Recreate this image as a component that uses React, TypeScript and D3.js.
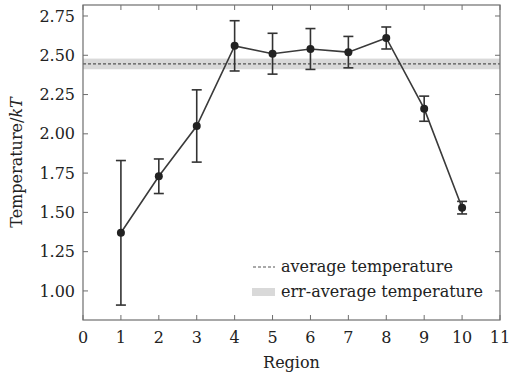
import React from "react";
import * as d3 from "d3";

// Per-region temperature with lower/upper error bounds
const regions = [1, 2, 3, 4, 5, 6, 7, 8, 9, 10];
const temps = [1.37, 1.73, 2.05, 2.56, 2.51, 2.54, 2.52, 2.61, 2.16, 1.53];
const lowers = [0.91, 1.62, 1.82, 2.40, 2.38, 2.41, 2.42, 2.54, 2.08, 1.49];
const uppers = [1.83, 1.84, 2.28, 2.72, 2.64, 2.67, 2.62, 2.68, 2.24, 1.57];

const avgTemp = 2.445;
const avgErr = 0.034;

const xTicks = [0, 1, 2, 3, 4, 5, 6, 7, 8, 9, 10, 11];
const yTicks = [1.0, 1.25, 1.5, 1.75, 2.0, 2.25, 2.5, 2.75];

const W = 509;
const H = 378;
const m = { left: 83, top: 5, right: 9, bottom: 58 };
const FONT = "DejaVu Serif";

export default function App() {
  const x = d3.scaleLinear().domain([0, 11]).range([m.left, W - m.right]);
  const y = d3.scaleLinear().domain([0.815, 2.82]).range([H - m.bottom, m.top]);
  const x0 = x.range()[0], x1 = x.range()[1];
  const y0 = y.range()[0], y1 = y.range()[1];

  const pts = regions.map((r, i) => [r, temps[i]] as [number, number]);
  const line = d3.line<[number, number]>().x((d) => x(d[0])).y((d) => y(d[1]));
  const frame = "#6e6e6e";
  const tickLen = 5;
  const capW = 5;
  const txt = { fontFamily: FONT, fontSize: 16, fill: "#222" } as React.CSSProperties;

  return (
    <svg width={W} height={H} style={{ position: "absolute", left: 0, top: 0, fontFamily: FONT }}>
      {/* average band and line */}
      <rect x={x0} y={y(avgTemp + avgErr)} width={x1 - x0} height={y(avgTemp - avgErr) - y(avgTemp + avgErr)} fill="#d9d9d9" />
      <line x1={x0} x2={x1} y1={y(avgTemp)} y2={y(avgTemp)} stroke="#555" strokeWidth={1.2} strokeDasharray="3,2" />

      {/* error bars */}
      {regions.map((r, i) => (
        <g key={r} stroke="#333" strokeWidth={1.6}>
          <line x1={x(r)} x2={x(r)} y1={y(lowers[i])} y2={y(uppers[i])} />
          <line x1={x(r) - capW} x2={x(r) + capW} y1={y(lowers[i])} y2={y(lowers[i])} />
          <line x1={x(r) - capW} x2={x(r) + capW} y1={y(uppers[i])} y2={y(uppers[i])} />
        </g>
      ))}
      <path d={line(pts) ?? ""} fill="none" stroke="#3a3a3a" strokeWidth={1.6} />
      {pts.map((p, i) => (
        <circle key={i} cx={x(p[0])} cy={y(p[1])} r={4} fill="#222" />
      ))}

      {/* frame */}
      <rect x={x0} y={y1} width={x1 - x0} height={y0 - y1} fill="none" stroke={frame} strokeWidth={1.2} />

      {/* ticks */}
      {xTicks.map((t) => (
        <g key={"x" + t}>
          <line x1={x(t)} x2={x(t)} y1={y0} y2={y0 - tickLen} stroke={frame} />
          <line x1={x(t)} x2={x(t)} y1={y1} y2={y1 + tickLen} stroke={frame} />
          <text x={x(t)} y={y0 + 23} textAnchor="middle" style={txt}>{t}</text>
        </g>
      ))}
      {yTicks.map((t) => (
        <g key={"y" + t}>
          <line x1={x0} x2={x0 + tickLen} y1={y(t)} y2={y(t)} stroke={frame} />
          <line x1={x1} x2={x1 - tickLen} y1={y(t)} y2={y(t)} stroke={frame} />
          <text x={x0 - 8} y={y(t)} dy="0.35em" textAnchor="end" style={txt}>{t.toFixed(2)}</text>
        </g>
      ))}

      {/* axis titles */}
      <text x={(x0 + x1) / 2} y={H - 10} textAnchor="middle" style={txt}>Region</text>
      <text transform={`translate(22,${(y0 + y1) / 2}) rotate(-90)`} textAnchor="middle" style={txt}>
        Temperature/<tspan fontStyle="italic">kT</tspan>
      </text>

      {/* legend */}
      <g>
        <line x1={253} x2={275} y1={267} y2={267} stroke="#555" strokeWidth={1.2} strokeDasharray="3,2" />
        <text x={281} y={267} dy="0.32em" style={txt}>average temperature</text>
        <rect x={252} y={288} width={23} height={8} fill="#d9d9d9" />
        <text x={281} y={292} dy="0.32em" style={txt}>err-average temperature</text>
      </g>
    </svg>
  );
}
